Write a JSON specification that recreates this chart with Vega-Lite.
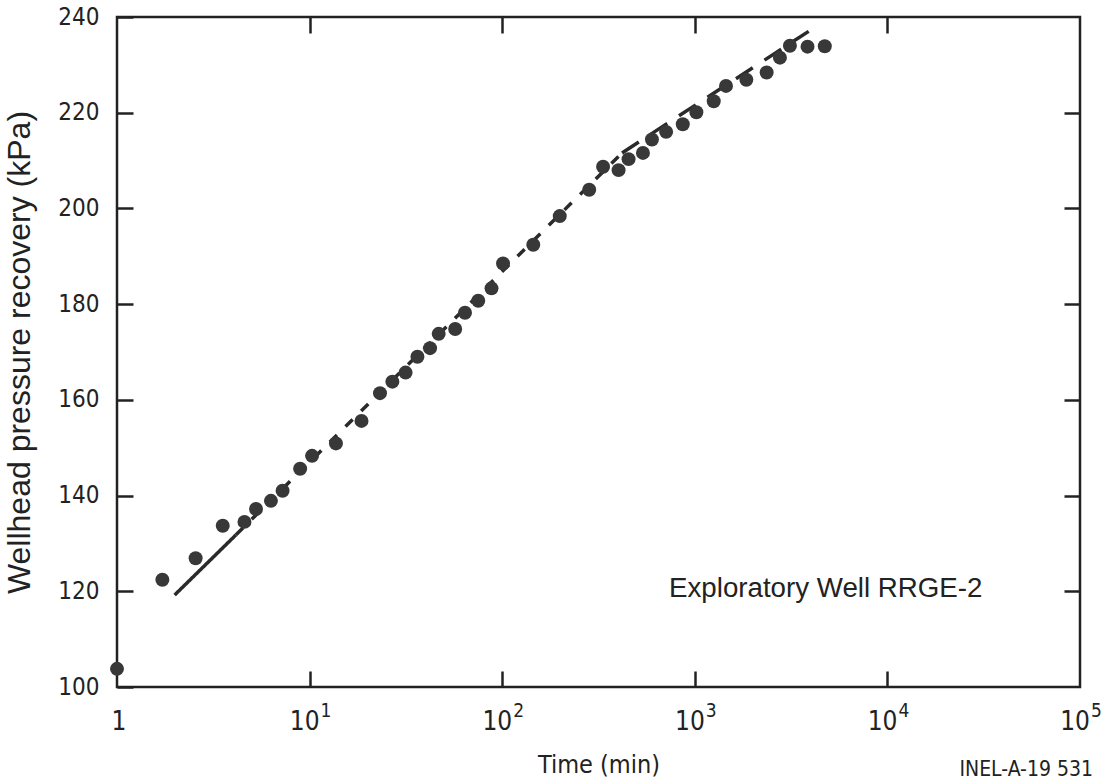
{
  "$schema": "https://vega.github.io/schema/vega-lite/v6.json",
  "width": 963,
  "height": 670,
  "autosize": "none",
  "padding": {"left": 117, "top": 17, "right": 28, "bottom": 97},
  "background": "white",
  "config": {
    "view": {"stroke": "#222", "strokeWidth": 2.5},
    "font": "Liberation Sans",
    "axis": {"grid": false, "domain": false, "tickColor": "#222", "tickWidth": 2.5, "labelColor": "#222", "titleColor": "#222", "labelFont": "DejaVu Sans Condensed", "titleFont": "Liberation Sans", "titleFontWeight": "normal"}
  },
  "datasets": {
    "points": [
      {"t": 1.0, "p": 103.8},
      {"t": 1.72, "p": 122.4},
      {"t": 2.56, "p": 126.9},
      {"t": 3.54, "p": 133.7},
      {"t": 4.59, "p": 134.5},
      {"t": 5.27, "p": 137.2},
      {"t": 6.3, "p": 138.9},
      {"t": 7.24, "p": 141.0},
      {"t": 8.93, "p": 145.6},
      {"t": 10.3, "p": 148.3},
      {"t": 13.7, "p": 150.9},
      {"t": 18.6, "p": 155.6},
      {"t": 23.2, "p": 161.4},
      {"t": 26.9, "p": 163.8},
      {"t": 31.5, "p": 165.7},
      {"t": 36.3, "p": 169.0},
      {"t": 42.2, "p": 170.8},
      {"t": 46.8, "p": 173.8},
      {"t": 57.0, "p": 174.8},
      {"t": 64.1, "p": 178.2},
      {"t": 75.1, "p": 180.7},
      {"t": 88.0, "p": 183.3},
      {"t": 101, "p": 188.5},
      {"t": 145, "p": 192.4},
      {"t": 199, "p": 198.4},
      {"t": 283, "p": 203.9},
      {"t": 334, "p": 208.7},
      {"t": 402, "p": 208.0},
      {"t": 453, "p": 210.3},
      {"t": 538, "p": 211.6},
      {"t": 599, "p": 214.4},
      {"t": 710, "p": 216.0},
      {"t": 866, "p": 217.6},
      {"t": 1019, "p": 220.1},
      {"t": 1254, "p": 222.4},
      {"t": 1452, "p": 225.6},
      {"t": 1852, "p": 226.9},
      {"t": 2361, "p": 228.4},
      {"t": 2767, "p": 231.5},
      {"t": 3118, "p": 234.0},
      {"t": 3848, "p": 233.8},
      {"t": 4730, "p": 233.9}
    ],
    "lines": [
      {"seg": "a", "t": 1.99, "p": 119.2},
      {"seg": "a", "t": 4.15, "p": 131.8},
      {"seg": "b", "t": 4.15, "p": 131.8},
      {"seg": "b", "t": 419, "p": 211.6},
      {"seg": "c", "t": 419, "p": 211.6},
      {"seg": "c", "t": 3900, "p": 237.0}
    ],
    "xlabels": [
      {"t": 10, "base": "10", "exp": "1"},
      {"t": 100, "base": "10", "exp": "2"},
      {"t": 1000, "base": "10", "exp": "3"},
      {"t": 10000, "base": "10", "exp": "4"},
      {"t": 100000, "base": "10", "exp": "5"}
    ],
    "one": [{"t": 1, "base": "1"}],
    "notes": [{"label": "Exploratory Well RRGE-2"}],
    "code": [{"label": "INEL-A-19  531"}]
  },
  "layer": [
    {
      "data": {"name": "lines"},
      "mark": {"type": "line", "color": "#2a2a2a", "strokeWidth": 3.5, "clip": false},
      "encoding": {
        "x": {"field": "t", "type": "quantitative", "scale": {"type": "log", "domain": [1, 100000]},
          "axis": {"orient": "top", "values": [10, 100, 1000, 10000], "labels": false, "title": null, "tickSize": -16}},
        "y": {"field": "p", "type": "quantitative", "scale": {"domain": [100, 240], "nice": false, "zero": false},
          "axis": {"orient": "right", "values": [120, 140, 160, 180, 200, 220], "labels": false, "title": null, "tickSize": -16}},
        "strokeDash": {"field": "seg", "type": "nominal", "scale": {"domain": ["a", "b", "c"], "range": [[1, 0], [10, 12], [20, 14]]}, "legend": null}
      }
    },
    {
      "data": {"name": "points"},
      "mark": {"type": "circle", "color": "#383838", "opacity": 1, "size": 195, "clip": false},
      "encoding": {
        "x": {"field": "t", "type": "quantitative", "scale": {"type": "log", "domain": [1, 100000]},
          "axis": {"orient": "bottom", "values": [10, 100, 1000, 10000], "tickSize": -16, "labels": false,
            "title": "Time (min)", "titleFont": "DejaVu Sans Condensed", "titleFontSize": 25, "titleY": 85, "titleBaseline": "alphabetic"}},
        "y": {"field": "p", "type": "quantitative", "scale": {"domain": [100, 240], "nice": false, "zero": false},
          "axis": {"orient": "left", "values": [100, 120, 140, 160, 180, 200, 220, 240], "tickSize": -16, "labelPadding": 34, "labelFontSize": 24,
            "title": "Wellhead pressure recovery (kPa)", "titleFont": "Liberation Sans", "titleFontSize": 32, "titleX": -98, "titleBaseline": "middle"}}
      }
    },
    {
      "data": {"name": "xlabels"},
      "mark": {"type": "text", "align": "right", "baseline": "alphabetic", "fontSize": 26, "color": "#222", "font": "DejaVu Sans Condensed", "dx": 10, "dy": 43, "clip": false},
      "encoding": {
        "x": {"field": "t", "type": "quantitative", "scale": {"type": "log", "domain": [1, 100000]}, "axis": null},
        "y": {"datum": 100, "type": "quantitative", "scale": {"domain": [100, 240], "nice": false, "zero": false}, "axis": null},
        "text": {"field": "base"}
      }
    },
    {
      "data": {"name": "xlabels"},
      "mark": {"type": "text", "align": "left", "baseline": "alphabetic", "fontSize": 19, "color": "#222", "font": "DejaVu Sans Condensed", "dx": 11, "dy": 30, "clip": false},
      "encoding": {
        "x": {"field": "t", "type": "quantitative", "scale": {"type": "log", "domain": [1, 100000]}, "axis": null},
        "y": {"datum": 100, "type": "quantitative", "scale": {"domain": [100, 240], "nice": false, "zero": false}, "axis": null},
        "text": {"field": "exp"}
      }
    },
    {
      "data": {"name": "one"},
      "mark": {"type": "text", "align": "center", "baseline": "alphabetic", "fontSize": 26, "color": "#222", "font": "DejaVu Sans Condensed", "dx": 2, "dy": 43, "clip": false},
      "encoding": {
        "x": {"field": "t", "type": "quantitative", "scale": {"type": "log", "domain": [1, 100000]}, "axis": null},
        "y": {"datum": 100, "type": "quantitative", "scale": {"domain": [100, 240], "nice": false, "zero": false}, "axis": null},
        "text": {"field": "base"}
      }
    },
    {
      "data": {"name": "notes"},
      "mark": {"type": "text", "align": "left", "baseline": "alphabetic", "fontSize": 27.7, "color": "#222", "font": "Liberation Sans"},
      "encoding": {
        "x": {"datum": 735, "type": "quantitative", "scale": {"type": "log", "domain": [1, 100000]}, "axis": null},
        "y": {"datum": 118.8, "type": "quantitative", "scale": {"domain": [100, 240], "nice": false, "zero": false}, "axis": null},
        "text": {"field": "label"}
      }
    },
    {
      "data": {"name": "code"},
      "mark": {"type": "text", "align": "right", "baseline": "alphabetic", "fontSize": 21, "color": "#222", "font": "DejaVu Sans Condensed", "dx": 13, "clip": false},
      "encoding": {
        "x": {"datum": 100000, "type": "quantitative", "scale": {"type": "log", "domain": [1, 100000]}, "axis": null},
        "y": {"datum": 81.4, "type": "quantitative", "scale": {"domain": [100, 240], "nice": false, "zero": false}, "axis": null},
        "text": {"field": "label"}
      }
    }
  ],
  "resolve": {"axis": {"x": "independent", "y": "independent"}}
}
